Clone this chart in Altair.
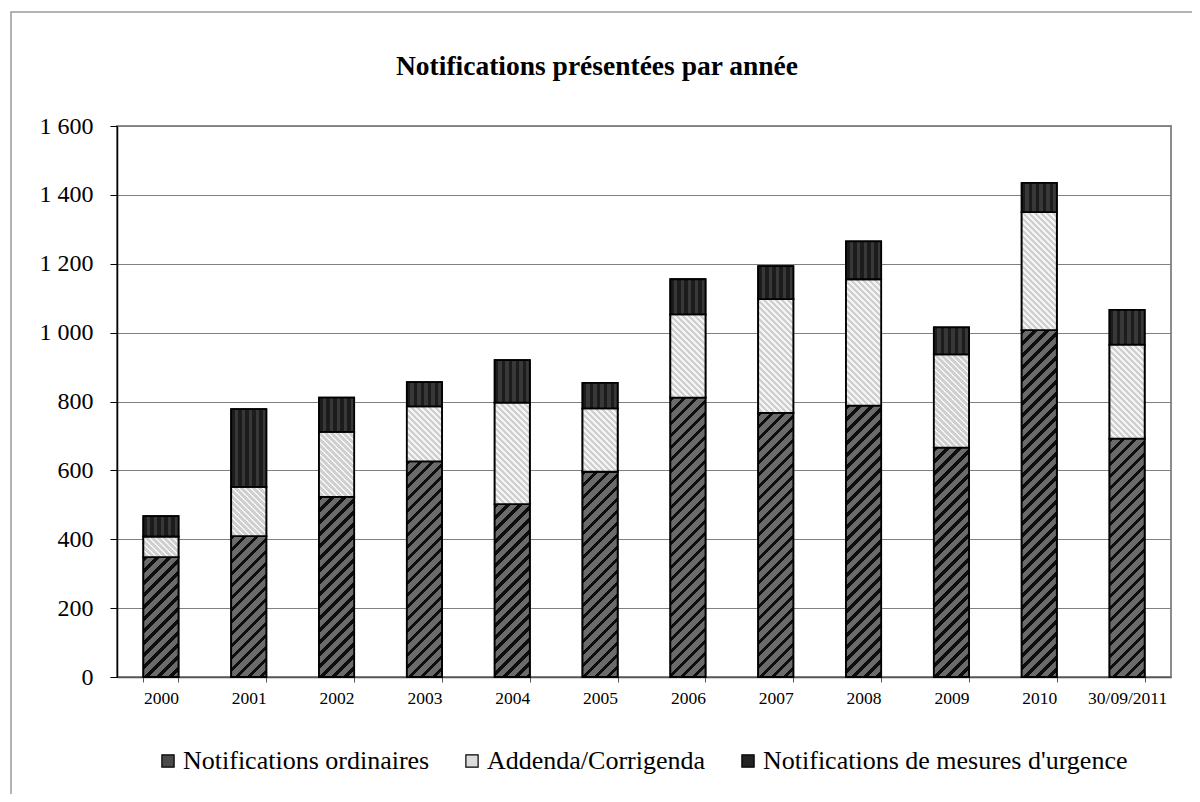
import altair as alt

years = ["2000", "2001", "2002", "2003", "2004", "2005", "2006", "2007", "2008", "2009", "2010", "30/09/2011"]
ordinaires = [348, 409, 523, 626, 502, 596, 811, 767, 788, 666, 1007, 692]
addenda = [60, 143, 189, 160, 295, 184, 242, 330, 367, 271, 343, 273]
urgence = [59, 226, 99, 70, 123, 74, 102, 96, 110, 78, 85, 101]
series = ["Notifications ordinaires", "Addenda/Corrigenda", "Notifications de mesures d'urgence"]
colors = ["#4a4a4a", "#dcdcdc", "#242424"]
y_ticks = [0, 200, 400, 600, 800, 1000, 1200, 1400, 1600]

FONT = "Liberation Serif, Times New Roman, serif"
W, H = 1054, 551
Y_MAX = 1600
BAR_W = 0.4 * W / len(years)


def stripes(length, period, duty, dark, light):
    stops = []
    j = 0
    while j * period < length:
        a = j * period / length
        b = min((j + duty) * period / length, 1.0)
        c = min((j + 1) * period / length, 1.0)
        stops += [{"offset": round(a, 5), "color": dark}, {"offset": round(b, 5), "color": dark},
                  {"offset": round(b, 5), "color": light}, {"offset": round(c, 5), "color": light}]
        j += 1
    return stops


def hatch(serie_idx, value):
    # fill texture of a segment (hatching as in the original), in the segment's bounding box
    w = BAR_W
    h = max(value * H / Y_MAX, 1.0)
    if serie_idx == 2:
        return {"gradient": "linear", "x1": 0, "y1": 0, "x2": 1, "y2": 0,
                "stops": stripes(w, w / 5, 0.5, "#1c1c1c", "#383838")}
    k = (w + h) / (w * w + h * h)
    if serie_idx == 0:
        return {"gradient": "linear", "x1": 0, "y1": 0, "x2": k * w, "y2": k * h,
                "stops": stripes(w + h, 12, 0.38, "#0d0d0d", "#6b6b6b")}
    return {"gradient": "linear", "x1": 0, "y1": 1, "x2": k * w, "y2": 1 - k * h,
            "stops": stripes(w + h, 6, 0.45, "#f4f4f4", "#cfcfcf")}


rows = []
for i, yr in enumerate(years):
    for k, vals in enumerate([ordinaires, addenda, urgence]):
        rows.append({"annee": yr, "serie": series[k], "valeur": vals[i], "ordre": k,
                     "motif": hatch(k, vals[i])})

base = alt.Chart(alt.Data(values=rows)).transform_stack(
    stack="valeur", groupby=["annee"], as_=["y0", "y1"], sort=[alt.SortField("ordre", order="ascending")]
)

x_enc = alt.X(
    "annee:N", sort=years, title=None,
    scale=alt.Scale(paddingInner=0.6, paddingOuter=0.3),
    axis=alt.Axis(labelAngle=0, labelFont=FONT, labelFontSize=17.5, labelColor="black",
                  tickBand="extent", tickSize=5, tickColor="#555555", domainColor="#555555",
                  domainWidth=1.5, grid=False, labelPadding=7),
)
y_enc = alt.Y(
    "y0:Q", title=None,
    scale=alt.Scale(domain=[0, Y_MAX], nice=False),
    axis=alt.Axis(values=y_ticks, labelExpr="replace(format(datum.value, ','), ',', ' ')",
                  labelFont=FONT, labelFontSize=24, labelColor="black", tickColor="black",
                  tickSize=7, domainColor="black", domainWidth=1.5, gridColor="#808080",
                  gridWidth=1, labelPadding=17),
)

bars = base.mark_bar(stroke="black", strokeWidth=1.8).encode(
    x=x_enc,
    y=y_enc,
    y2="y1:Q",
    color=alt.Color(
        "serie:N", sort=series,
        scale=alt.Scale(domain=series, range=colors),
        legend=alt.Legend(title=None, orient="none", legendX=38, legendY=622, direction="horizontal",
                          labelFont=FONT, labelFontSize=26, labelColor="black", symbolType="square",
                          symbolSize=150, symbolStrokeColor="black", symbolStrokeWidth=1.2,
                          columnPadding=29, labelOffset=2, labelLimit=600),
    ),
)

texture = base.mark_bar(stroke="black", strokeWidth=1.8).encode(
    x=x_enc, y=y_enc, y2="y1:Q",
    fill=alt.Fill("motif:N", scale=None, legend=None),
)

border = alt.Chart(alt.Data(values=[{"a": 1}])).mark_rect(
    fill="transparent", stroke="#9a9a9a", strokeWidth=1.5
).encode(
    x=alt.value(-106), x2=alt.value(1090), y=alt.value(-114), y2=alt.value(700)
)

chart = alt.layer(border, bars, texture).properties(
    width=W, height=H,
    title=alt.TitleParams("Notifications présentées par année", font=FONT, fontSize=27.5,
                          fontWeight="bold", color="black", anchor="middle", offset=0, dy=69, dx=-47),
    autosize=alt.AutoSizeParams(type="none"),
    padding={"left": 109, "top": 118, "right": 21, "bottom": 117},
).configure_view(stroke="#8c8c8c", strokeWidth=2)

chart.save("out.html", embed_options={"renderer": "svg", "actions": False})
